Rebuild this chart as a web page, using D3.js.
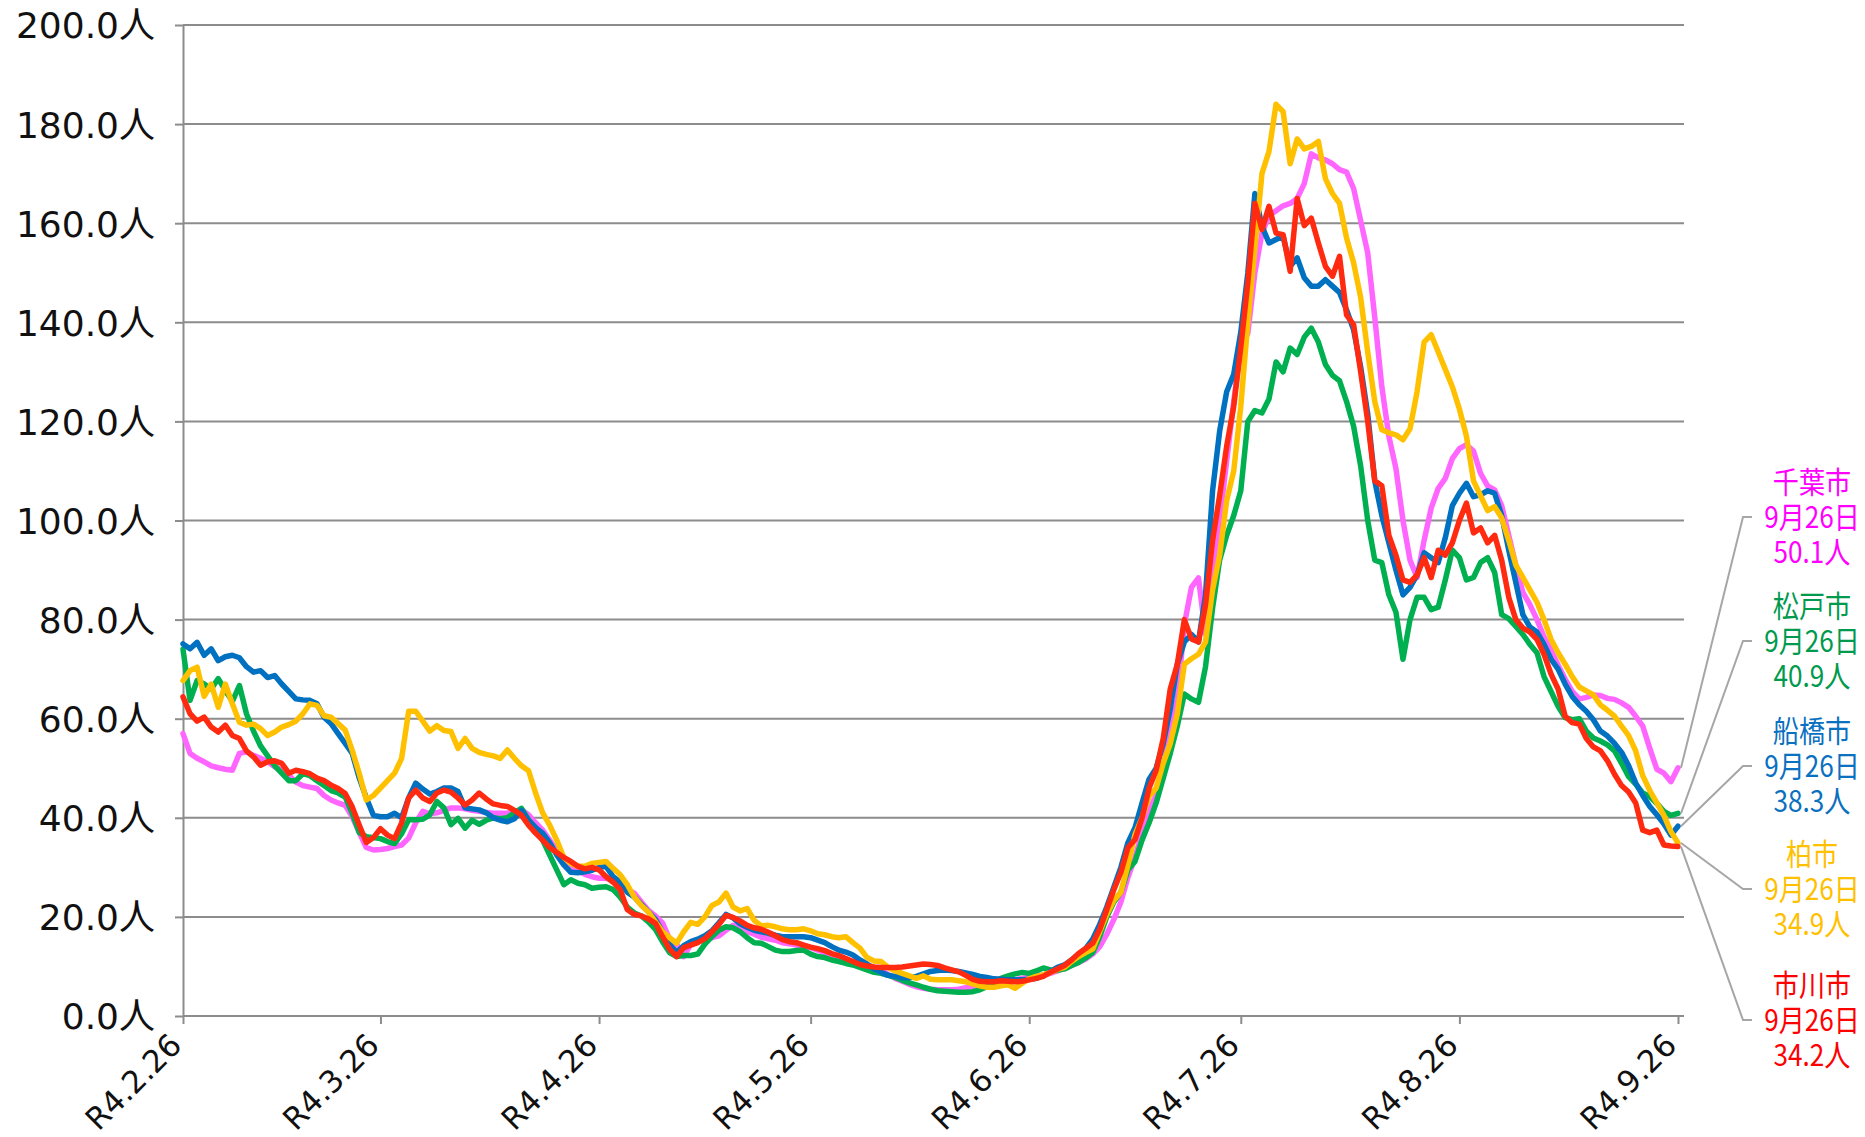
<!DOCTYPE html>
<html><head><meta charset="utf-8">
<script src="https://cdn.jsdelivr.net/npm/d3@7"></script>
<style>
html,body{margin:0;padding:0;background:#fff;}
svg{display:block;}
</style></head><body>
<svg id="chart" width="1865" height="1137"></svg>
<script>
// ---------- data ----------
const startDate = "2022-02-26";
const tickDates = ["2022-02-26","2022-03-26","2022-04-26","2022-05-26","2022-06-26","2022-07-26","2022-08-26","2022-09-26"];
const tickLabels = ["R4.2.26","R4.3.26","R4.4.26","R4.5.26","R4.6.26","R4.7.26","R4.8.26","R4.9.26"];
const yTicks = [0,20,40,60,80,100,120,140,160,180,200];
const lastDateLabel = "9月26日";
const cityNames = ["千葉市","松戸市","船橋市","柏市","市川市"];

const chibaValues = [
57.0,53.0,52.0,51.3,50.5,50.1,49.8,49.6,53.0,53.3,
52.6,52.0,51.3,50.3,49.6,48.6,47.2,46.5,46.2,45.9,
44.5,43.6,43.0,42.5,40.2,37.0,34.0,33.5,33.6,33.8,
34.2,34.5,35.9,39.0,41.3,40.8,41.0,41.5,42.0,42.0,
41.8,41.5,41.3,41.1,40.9,40.9,40.9,41.3,41.6,40.6,
39.0,37.5,35.5,33.5,31.5,30.2,29.3,28.6,28.1,27.8,
27.8,27.5,26.5,25.5,24.8,23.0,21.3,20.2,18.8,15.5,
14.5,12.0,14.5,15.0,15.5,15.8,16.2,17.3,18.3,17.8,
17.0,16.5,15.9,15.6,15.3,14.8,14.6,14.3,14.3,13.8,
13.3,12.8,12.2,11.6,11.2,11.0,10.7,10.3,9.8,9.2,
8.4,7.6,7.0,6.4,5.9,5.6,5.4,5.3,5.3,5.3,
5.4,5.7,6.0,6.3,6.5,6.6,6.7,7.0,7.3,7.6,
7.8,8.2,8.3,8.6,9.1,9.6,10.2,10.8,11.5,12.5,
14.0,16.5,19.5,23.0,28.0,32.0,37.0,41.5,44.5,50.0,
58.0,64.0,79.0,86.5,88.4,77.0,90.0,100.0,112.0,124.0,
135.0,137.8,150.0,158.0,161.5,162.5,163.5,164.0,165.0,168.0,
174.0,173.2,172.8,172.0,170.8,170.3,167.0,160.5,154.0,141.0,
127.0,117.0,110.5,100.0,92.0,88.5,96.0,102.5,106.5,108.5,
112.5,114.5,115.3,114.0,109.5,107.0,106.2,103.0,97.0,91.0,
85.5,83.0,80.0,76.5,73.8,70.8,68.0,65.5,64.0,64.3,
64.8,64.7,64.1,63.9,63.2,62.3,60.5,58.5,54.0,49.8,
49.0,47.3,50.1];

const matsudoValues = [
74.0,63.7,67.7,67.0,66.0,68.1,65.7,63.5,66.7,61.0,
57.5,54.5,52.5,50.5,49.0,47.5,47.5,48.9,48.5,47.5,
46.5,45.5,45.0,44.2,40.9,37.0,36.2,36.0,35.8,35.2,
34.8,36.8,39.6,39.6,39.7,40.6,43.3,42.0,38.6,39.9,
37.9,39.5,38.7,39.5,40.0,39.8,40.0,41.0,41.9,39.6,
38.0,35.5,32.5,29.5,26.5,27.5,26.8,26.5,25.8,26.0,
26.1,25.5,24.0,22.0,20.8,20.2,19.0,17.5,15.0,12.8,
12.0,12.2,12.2,12.5,14.5,16.0,17.3,18.0,17.8,17.0,
15.8,14.8,14.7,14.0,13.3,13.0,13.0,13.2,13.3,12.5,
12.0,11.8,11.3,11.0,10.6,10.3,9.8,9.3,8.8,8.6,
8.2,7.8,7.2,6.7,6.3,5.8,5.4,5.1,5.0,4.9,
4.8,4.8,4.9,5.3,5.9,6.6,7.6,8.1,8.5,8.8,
8.6,9.1,9.7,9.3,9.2,9.5,10.2,10.8,11.7,12.8,
16.0,20.0,23.0,25.0,29.5,31.2,35.5,39.0,43.0,48.0,
53.0,58.5,65.0,64.0,63.3,70.5,82.3,92.0,97.0,101.0,
106.0,120.0,122.2,121.7,124.5,132.0,130.0,134.8,133.5,137.0,
138.8,136.0,131.5,129.3,128.2,124.0,119.0,111.0,100.0,92.0,
91.5,85.0,81.5,72.0,80.0,84.5,84.5,82.0,82.5,88.0,
94.0,92.5,88.0,88.5,91.5,92.5,89.5,81.0,80.2,78.6,
77.0,75.0,73.3,68.5,65.5,62.5,60.2,59.8,60.0,57.5,
56.1,55.5,54.7,53.5,51.0,48.3,46.8,45.0,44.3,42.9,
41.3,40.5,40.9];

const funabashiValues = [
75.1,74.1,75.4,72.8,74.1,71.7,72.5,72.8,72.3,70.5,
69.4,69.7,68.3,68.7,67.0,65.5,64.0,63.8,63.7,63.0,
60.3,59.0,57.0,55.0,53.0,48.0,44.0,40.5,40.2,40.2,
40.9,40.0,44.0,47.0,45.8,44.8,45.3,46.0,46.0,45.3,
42.0,41.8,41.6,41.0,40.0,39.5,39.2,39.8,41.5,39.5,
38.0,36.9,35.0,32.5,30.5,29.0,28.9,29.1,29.4,30.0,
30.2,28.1,27.0,25.0,24.0,22.5,21.0,19.5,17.0,14.5,
12.8,14.2,15.0,15.5,16.2,17.2,18.8,20.5,19.8,18.6,
17.9,17.3,17.0,16.7,16.3,16.0,16.0,16.0,16.0,15.8,
15.3,14.8,14.0,13.3,12.9,12.3,11.3,10.5,9.5,8.8,
8.2,8.0,7.7,7.7,8.0,8.5,9.0,9.2,9.3,9.2,
9.0,8.7,8.4,8.0,7.8,7.5,7.4,7.3,7.3,7.3,
7.4,7.6,8.2,9.0,9.8,10.3,11.3,12.5,13.6,15.5,
18.5,22.0,26.0,30.0,35.0,38.0,43.0,47.8,50.0,55.0,
62.0,71.0,75.5,77.0,75.5,85.0,106.0,118.0,126.0,129.5,
138.0,150.0,166.0,159.4,156.0,156.7,157.4,151.3,153.0,149.0,
147.3,147.3,148.6,147.3,146.0,142.5,138.5,131.0,121.5,108.0,
101.0,95.5,90.0,85.0,86.5,89.0,93.5,92.5,91.5,96.5,
103.0,105.5,107.5,104.8,105.2,106.0,105.5,101.0,94.0,87.5,
81.0,78.5,77.5,75.0,72.0,70.0,67.0,64.5,62.8,61.5,
59.8,57.5,56.5,55.0,53.2,50.5,47.0,44.5,42.3,40.6,
38.8,36.5,38.3];

const kashiwaValues = [
67.7,69.7,70.4,64.5,67.0,62.3,67.0,63.0,59.3,58.7,
58.9,58.0,56.6,57.3,58.3,58.8,59.5,61.0,63.0,62.7,
60.6,60.3,59.0,57.7,53.6,48.9,43.6,44.5,46.0,47.5,
49.0,52.0,61.5,61.5,59.5,57.5,58.6,57.6,57.4,54.0,
56.0,54.0,53.2,52.8,52.5,52.0,53.7,52.0,50.5,49.5,
45.0,41.0,38.5,35.5,32.0,30.8,30.2,30.2,30.8,31.0,
31.2,29.8,28.5,26.5,24.0,22.3,21.0,19.0,17.0,15.8,
14.7,17.0,18.9,18.5,20.0,22.3,23.0,24.8,22.0,21.2,
21.7,19.3,18.2,18.3,18.0,17.6,17.4,17.4,17.6,17.2,
16.6,16.4,16.0,15.8,16.0,14.8,13.7,11.8,11.1,11.0,
9.8,9.1,8.6,8.1,7.6,8.1,7.4,7.3,7.3,7.3,
7.1,6.9,6.5,6.1,5.8,5.8,6.1,6.3,5.6,6.6,
7.5,8.0,8.3,8.8,9.4,9.8,11.0,12.0,12.8,13.5,
17.0,20.5,23.3,25.0,30.5,36.6,40.0,44.3,46.0,51.0,
55.0,61.0,71.0,72.1,73.0,75.5,86.0,93.0,104.0,110.0,
123.0,140.0,155.0,170.0,174.5,184.0,182.5,172.0,177.0,175.0,
175.5,176.5,169.0,166.0,164.0,157.0,152.0,145.0,134.0,124.0,
118.3,117.7,117.3,116.3,118.5,126.0,136.0,137.5,134.0,130.5,
127.0,122.5,117.0,108.0,105.0,102.0,102.8,100.5,96.0,91.0,
88.5,86.0,83.5,80.0,76.0,73.3,71.0,68.5,66.4,65.6,
64.8,62.8,61.7,60.5,58.5,56.6,53.5,48.5,45.5,43.0,
40.5,37.2,34.9];

const ichikawaValues = [
64.4,61.0,59.5,60.3,58.3,57.3,58.7,56.6,56.0,53.5,
52.3,50.6,51.3,51.5,51.0,49.0,49.6,49.3,48.9,48.0,
47.5,46.6,45.9,44.9,42.2,38.5,35.0,36.0,37.8,36.5,
35.8,39.0,44.0,45.6,44.0,43.3,45.0,45.6,45.2,44.0,
42.6,43.6,45.0,43.8,42.8,42.5,42.3,41.5,40.5,38.5,
36.9,35.5,34.0,33.0,32.0,31.2,30.2,29.7,30.0,29.5,
28.1,27.0,25.5,21.5,20.5,20.2,19.6,18.7,16.0,13.5,
12.0,13.8,14.3,14.8,15.6,17.0,18.5,20.3,19.9,19.2,
18.3,17.8,17.5,16.9,16.2,15.4,15.0,14.8,14.3,13.9,
13.6,13.2,12.6,12.2,11.6,11.0,10.4,10.1,9.9,9.8,
9.8,9.8,9.9,10.1,10.3,10.5,10.4,10.2,9.7,9.3,
8.9,8.2,7.4,7.0,6.9,6.9,7.1,7.0,6.9,7.0,
7.3,7.6,8.0,8.8,9.5,10.2,11.3,12.6,13.6,14.7,
17.5,21.5,25.5,29.0,34.0,35.6,40.0,46.0,49.6,56.0,
66.0,71.0,80.0,76.1,75.5,83.0,96.0,105.0,115.0,123.0,
135.0,148.0,164.0,158.7,163.4,158.0,157.7,150.3,165.0,159.5,
161.0,156.0,151.3,149.3,153.3,141.5,139.5,130.0,120.0,108.0,
107.0,97.0,93.0,88.0,87.5,89.0,92.5,88.5,94.0,93.0,
95.5,100.0,103.5,97.5,98.5,95.5,97.0,92.0,84.5,80.0,
78.3,77.5,76.0,73.0,69.0,66.0,60.5,59.2,58.9,56.0,
54.3,53.5,51.5,48.8,46.5,45.2,43.0,37.5,37.0,37.5,
34.5,34.3,34.2];

// ---------- layout / style ----------
const W = 1865, H = 1137;
const plotLeft = 183, plotRight = 1684, plotTop = 25, plotBottom = 1016;
const lastX = 1678;
const gridColor = "#8c8c8c";
const textFont = "'DejaVu Sans', 'Noto Sans CJK JP', sans-serif";

const series = [
  {name: cityNames[0], values: chibaValues,     line: "#ff66ff", text: "#ff00ff", labelY: 517},
  {name: cityNames[1], values: matsudoValues,   line: "#00b050", text: "#009a4e", labelY: 641},
  {name: cityNames[2], values: funabashiValues, line: "#0070c0", text: "#0a70c0", labelY: 766},
  {name: cityNames[3], values: kashiwaValues,   line: "#ffc000", text: "#ffc000", labelY: 889},
  {name: cityNames[4], values: ichikawaValues,  line: "#ff2a10", text: "#ff0000", labelY: 1020}
];
const drawOrder = [0, 1, 2, 3, 4];

const parse = d3.timeParse("%Y-%m-%d");
const start = parse(startDate);
const tickDateObjs = tickDates.map(parse);

const x = d3.scaleTime().domain([start, tickDateObjs[tickDateObjs.length-1]]).range([plotLeft, lastX]);
const y = d3.scaleLinear().domain([0, 200]).range([plotBottom, plotTop]);

const svg = d3.select("#chart");
svg.append("rect").attr("width", W).attr("height", H).attr("fill", "#fff");

// gridlines
svg.append("g")
  .selectAll("line")
  .data(yTicks.filter(v => v > 0))
  .join("line")
  .attr("x1", plotLeft).attr("x2", plotRight)
  .attr("y1", v => y(v)).attr("y2", v => y(v))
  .attr("stroke", gridColor).attr("stroke-width", 2);

// y axis
const yAxis = d3.axisLeft(y)
  .tickValues(yTicks)
  .tickSizeInner(8).tickSizeOuter(0)
  .tickPadding(20)
  .tickFormat(v => v.toFixed(1) + "人");
const gy = svg.append("g").attr("transform", `translate(${plotLeft},0)`).call(yAxis);
gy.select(".domain").attr("stroke", gridColor).attr("stroke-width", 2);
gy.selectAll(".tick line").attr("stroke", gridColor).attr("stroke-width", 2);
gy.selectAll(".tick text")
  .attr("font-family", textFont).attr("font-size", 36).attr("fill", "#111")
  .attr("dy", "0.36em");

// x axis
const xAxis = d3.axisBottom(x)
  .tickValues(tickDateObjs)
  .tickSizeInner(8).tickSizeOuter(0)
  .tickFormat((d, i) => tickLabels[i]);
const gx = svg.append("g").attr("transform", `translate(0,${plotBottom})`).call(xAxis);
gx.select(".domain").attr("d", `M${plotLeft},0H${plotRight}`).attr("stroke", gridColor).attr("stroke-width", 2);
gx.selectAll(".tick line").attr("stroke", gridColor).attr("stroke-width", 2);
gx.selectAll(".tick text")
  .attr("font-family", textFont).attr("font-size", 31).attr("fill", "#111")
  .attr("x", 0).attr("y", 0).attr("dy", 0)
  .attr("text-anchor", "end")
  .attr("transform", "translate(0,31) rotate(-45)");

// lines
const line = d3.line()
  .x((v, i) => x(d3.timeDay.offset(start, i)))
  .y(v => y(v))
  .curve(d3.curveLinear);

const gl = svg.append("g");
drawOrder.forEach(k => {
  const s = series[k];
  gl.append("path")
    .datum(s.values)
    .attr("d", line)
    .attr("fill", "none")
    .attr("stroke", s.line)
    .attr("stroke-width", 5.5)
    .attr("stroke-linejoin", "round")
    .attr("stroke-linecap", "round");
});

// leader lines + labels
const labelX = 1812;
const gLab = svg.append("g");
series.forEach(s => {
  const n = s.values.length - 1;
  const v = s.values[n];
  const px = x(d3.timeDay.offset(start, n)) + 3;
  const py = y(v);
  gLab.append("path")
    .attr("d", `M${px},${py}L1743,${s.labelY}L1752,${s.labelY}`)
    .attr("fill", "none").attr("stroke", "#a6a6a6").attr("stroke-width", 2);
  const rows = [s.name, lastDateLabel, v.toFixed(1) + "人"];
  const t = gLab.append("text")
    .attr("transform", `translate(${labelX},${s.labelY}) scale(0.87,1)`)
    .attr("text-anchor", "middle")
    .attr("font-family", "'Noto Sans CJK JP', sans-serif")
    .attr("font-size", 30)
    .attr("fill", s.text);
  rows.forEach((r, j) => {
    t.append("tspan")
      .attr("x", 0)
      .attr("y", (j - 1) * 35 + 11)
      .text(r);
  });
});
</script>
</body></html>
